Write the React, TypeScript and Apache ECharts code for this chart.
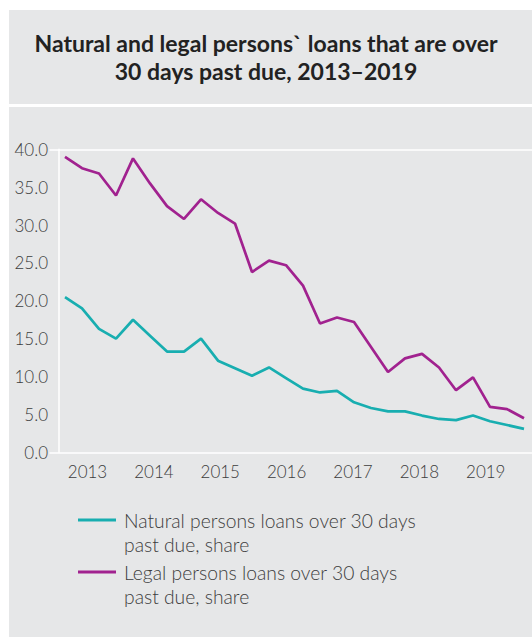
import React, { useEffect, useRef } from "react";
import * as echarts from "echarts";

const quarters = [
  "2013Q1", "2013Q2", "2013Q3", "2013Q4",
  "2014Q1", "2014Q2", "2014Q3", "2014Q4",
  "2015Q1", "2015Q2", "2015Q3", "2015Q4",
  "2016Q1", "2016Q2", "2016Q3", "2016Q4",
  "2017Q1", "2017Q2", "2017Q3", "2017Q4",
  "2018Q1", "2018Q2", "2018Q3", "2018Q4",
  "2019Q1", "2019Q2", "2019Q3", "2019Q4",
];

const naturalShare = [
  20.5, 19.0, 16.3, 15.0, 17.5, 15.4, 13.3, 13.3, 15.0, 12.1, 11.1, 10.1,
  11.2, 9.8, 8.4, 7.9, 8.1, 6.6, 5.85, 5.4, 5.4, 4.85, 4.4, 4.25, 4.85, 4.1,
  3.6, 3.1,
];

const legalShare = [
  39.0, 37.5, 36.8, 33.9, 38.8, 35.5, 32.5, 30.8, 33.4, 31.6, 30.2, 23.8,
  25.3, 24.7, 22.0, 17.0, 17.8, 17.2, 13.9, 10.6, 12.4, 13.0, 11.2, 8.2, 9.9,
  6.0, 5.7, 4.5,
];

const yearLabels = [2013, 2014, 2015, 2016, 2017, 2018, 2019];

const seriesNames = [
  "Natural persons loans over 30 days\npast due, share",
  "Legal persons loans over 30 days\npast due, share",
];

const titleText = "Natural and legal persons` loans that are over\n30 days past due, 2013–2019";

const GREY = "#e6e7e8";
const TEXT = "#3d3d3d";
const FONT = "Lato, 'Open Sans', sans-serif";

export default function App() {
  const ref = useRef<HTMLDivElement>(null);

  useEffect(() => {
    if (!ref.current) return;
    const chart = echarts.init(ref.current, undefined, { renderer: "svg" });
    const legendIcon =
      "path://M0,0L0,0M38,49L38,49M0,10.75L38,10.75L38,13.75L0,13.75Z";
    chart.setOption({
      animation: false,
      backgroundColor: "transparent",
      title: {
        text: titleText,
        left: "center",
        top: 28.5,
        padding: [0, 0, 0, 10],
        textStyle: {
          fontFamily: FONT,
          fontSize: 23,
          fontWeight: "bold",
          lineHeight: 28,
          color: "#222222",
        },
      },
      grid: { left: 50, right: 0, top: 149.3, bottom: 184.7, containLabel: false },
      xAxis: [
        {
          type: "value",
          position: "top",
          min: -0.882,
          max: 27.47,
          axisLine: { show: true, onZero: false, lineStyle: { color: "#ffffff", width: 1.5 } },
          axisTick: { show: false },
          axisLabel: { show: false },
          splitLine: { show: false },
        },
        {
          type: "value",
          position: "bottom",
          min: 2012.435,
          max: 2019.697,
          axisLine: { show: true, onZero: false, lineStyle: { color: "#ffffff", width: 1.5 } },
          axisTick: { show: false },
          splitLine: { show: false },
          axisLabel: {
            customValues: yearLabels,
            formatter: (v: number) => String(Math.round(v)),
            fontFamily: FONT,
            fontWeight: 300,
            fontSize: 17,
            color: TEXT,
            margin: 11,
          },
        },
      ],
      yAxis: {
        type: "value",
        min: 0,
        max: 40,
        interval: 5,
        offset: -9,
        axisLine: { show: true, onZero: false, lineStyle: { color: "#ffffff", width: 1.5 } },
        axisTick: { show: false },
        splitLine: { show: false },
        axisLabel: {
          formatter: (v: number) => v.toFixed(1),
          fontFamily: FONT,
          fontWeight: 300,
          fontSize: 17,
          color: TEXT,
          margin: 11,
        },
      },
      legend: {
        orient: "vertical",
        left: 78,
        top: 507.75,
        padding: 0,
        itemWidth: 38,
        itemHeight: 49,
        itemGap: 3,
        icon: legendIcon,
        itemStyle: { borderWidth: 0 },
        selectedMode: false,
        textStyle: {
          fontFamily: FONT,
          fontWeight: 300,
          fontSize: 19.3,
          lineHeight: 24.5,
          color: TEXT,
          padding: [0, 0, 0, 3],
        },
        data: seriesNames,
      },
      series: [
        {
          name: seriesNames[0],
          type: "line",
          xAxisIndex: 0,
          symbol: "none",
          color: "#18aeb0",
          lineStyle: { color: "#18aeb0", width: 2.7 },
          emphasis: { disabled: true },
          data: quarters.map((_, i) => [i, naturalShare[i]]),
        },
        {
          name: seriesNames[1],
          type: "line",
          xAxisIndex: 0,
          symbol: "none",
          color: "#a1228f",
          lineStyle: { color: "#a1228f", width: 2.7 },
          emphasis: { disabled: true },
          data: quarters.map((_, i) => [i, legalShare[i]]),
        },
      ],
    });
    return () => chart.dispose();
  }, []);

  return (
    <div style={{ position: "fixed", left: 0, top: 0, width: 532, height: 637, background: "#ffffff" }}>
      <div style={{ position: "absolute", left: 9, top: 10, width: 523, height: 93.5, background: GREY }} />
      <div style={{ position: "absolute", left: 9, top: 106.5, width: 523, height: 530.5, background: GREY }} />
      <div ref={ref} style={{ position: "absolute", left: 0, top: 0, width: 532, height: 637 }} />
    </div>
  );
}
